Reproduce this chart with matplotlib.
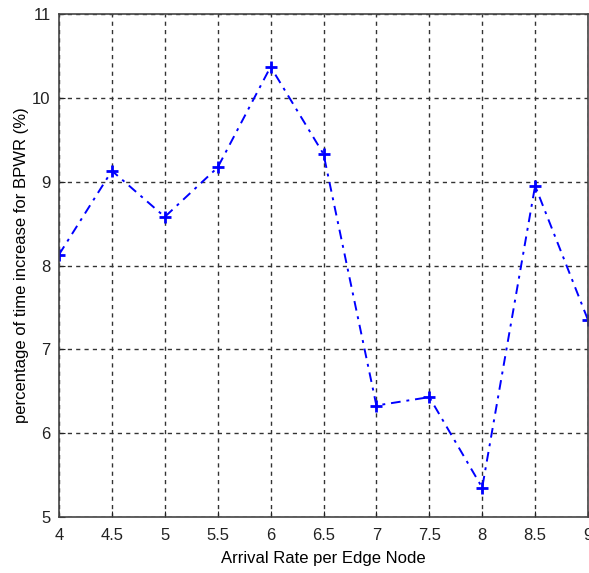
import numpy as np
import matplotlib
matplotlib.use('Agg')
import matplotlib.pyplot as plt

# Values
arrival_rate = [4, 4.5, 5, 5.5, 6, 6.5, 7, 7.5, 8, 8.5, 9]
pct_increase = [8.13, 9.13, 8.58, 9.17, 10.37, 9.33, 6.33, 6.43, 5.35, 8.95, 7.35]
x_ticks = [4, 4.5, 5, 5.5, 6, 6.5, 7, 7.5, 8, 8.5, 9]
x_tick_labels = ['4', '4.5', '5', '5.5', '6', '6.5', '7', '7.5', '8', '8.5', '9']
y_ticks = [5, 6, 7, 8, 9, 10, 11]

plt.rcParams['font.family'] = ['Liberation Sans Narrow', 'Liberation Sans', 'DejaVu Sans']

fig = plt.figure(figsize=(5.89, 5.73), dpi=100)
ax = fig.add_axes([59 / 589, 1 - 517 / 573, (588 - 59) / 589, (517 - 14) / 573])

ax.plot(arrival_rate, pct_increase, color='#0000ff', linestyle=(0, (5, 3, 1.5, 3)), linewidth=1.4,
        marker='+', markersize=8, markeredgewidth=2)

ax.set_xlim(4, 9)
ax.set_ylim(5, 11)
ax.set_xticks(x_ticks)
ax.set_xticklabels(x_tick_labels)
ax.set_yticks(y_ticks)
ax.tick_params(direction='in', length=4, labelsize=12, colors='#222222')
ax.tick_params(axis='x', pad=8)
ax.tick_params(axis='y', pad=6)
ax.grid(True, color='#333333', linestyle=(0, (3, 3)), linewidth=1)

for sp in ax.spines.values():
    sp.set_color('#444444')
    sp.set_linewidth(1.2)

ax.set_xlabel('Arrival Rate per Edge Node', fontsize=12, labelpad=6)
ax.set_ylabel('percentage of time increase for BPWR (%)', fontsize=12, labelpad=2)

fig.savefig('out.png', dpi=100)
